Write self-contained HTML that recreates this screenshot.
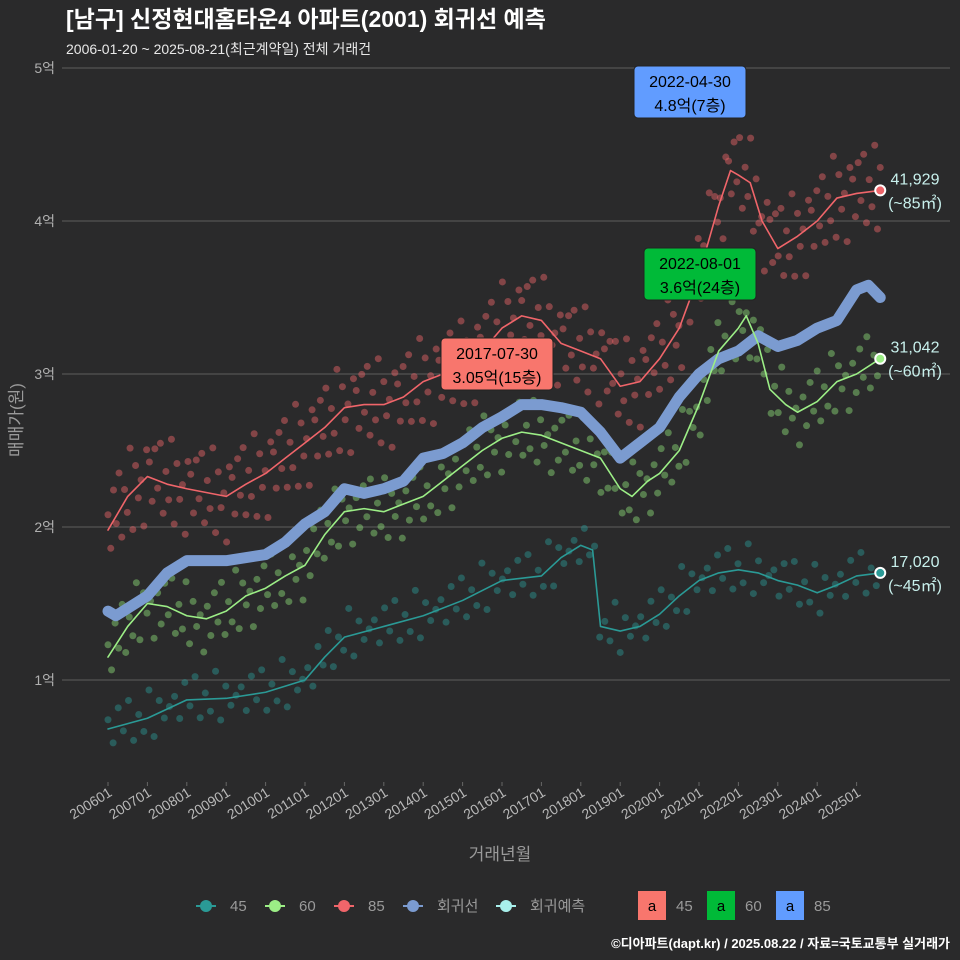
<!DOCTYPE html>
<html><head><meta charset="utf-8">
<style>
body{margin:0;background:#2a2a2b;}
svg{display:block;font-family:"Liberation Sans","Noto Sans CJK KR",sans-serif;}
</style></head>
<body>
<svg id="c" width="960" height="960">
<rect width="960" height="960" fill="#2a2a2b"/>
<text x="66" y="27" fill="#fff" font-size="23" font-weight="bold">[남구] 신정현대홈타운4 아파트(2001) 회귀선 예측</text>
<text x="66" y="54" fill="#e8e8e8" font-size="14">2006-01-20 ~ 2025-08-21(최근계약일) 전체 거래건</text>
<g id="grid"></g>
<g id="pts"></g>
<g id="lines"></g>
<g id="ann"></g>
<text x="500" y="860" fill="#9a9a9a" font-size="17" text-anchor="middle">거래년월</text>
<text transform="translate(22,420) rotate(-90)" fill="#9a9a9a" font-size="17" text-anchor="middle">매매가(원)</text>
<g id="legend" font-size="15" fill="#9a9a9a"></g>
<text x="950" y="948" fill="#fff" font-size="13" font-weight="bold" text-anchor="end">©디아파트(dapt.kr) / 2025.08.22 / 자료=국토교통부 실거래가</text>
</svg>
<script>
const yTicks=[1,2,3,4,5];
const xTickYears=[2006,2007,2008,2009,2010,2011,2012,2013,2014,2015,2016,2017,2018,2019,2020,2021,2022,2023,2024,2025];
const t85=[2006,2006.5,2007,2007.5,2008,2009,2009.5,2010,2010.5,2011,2011.5,2012,2012.5,2013,2013.5,2014,2014.5,2015,2015.5,2016,2016.5,2017,2017.5,2018,2018.5,2019,2019.5,2020,2020.5,2021,2021.5,2021.8,2022,2022.3,2022.6,2023,2023.5,2024,2024.5,2025,2025.6];
const v85=[1.98,2.2,2.33,2.28,2.25,2.2,2.28,2.35,2.45,2.55,2.65,2.78,2.8,2.8,2.85,2.95,3.0,3.05,3.15,3.3,3.38,3.35,3.2,3.15,3.1,2.92,2.95,3.1,3.3,3.65,4.1,4.33,4.3,4.25,4.0,3.82,3.9,4.0,4.15,4.18,4.2];
const t60=[2006,2006.5,2007,2007.5,2008,2008.5,2009,2009.5,2010,2010.5,2011,2011.5,2012,2012.5,2013,2013.5,2014,2014.5,2015,2015.5,2016,2016.5,2017,2017.5,2018,2018.5,2019,2019.3,2019.7,2020,2020.5,2021,2021.5,2022,2022.2,2022.5,2022.8,2023.2,2023.5,2024,2024.5,2025,2025.6];
const v60=[1.15,1.35,1.5,1.48,1.42,1.4,1.45,1.55,1.6,1.68,1.75,1.95,2.1,2.12,2.1,2.15,2.2,2.3,2.4,2.5,2.58,2.62,2.6,2.55,2.5,2.45,2.25,2.2,2.3,2.35,2.5,2.8,3.15,3.3,3.38,3.2,2.9,2.8,2.75,2.82,2.95,3.0,3.1];
const t45=[2006,2007,2008,2009,2010,2011,2011.5,2012,2013,2014,2015,2016,2017,2017.5,2018,2018.3,2018.5,2019,2019.5,2020,2020.5,2021,2021.5,2022,2022.5,2023,2023.5,2024,2024.5,2025,2025.6];
const v45=[0.68,0.75,0.87,0.88,0.92,1.0,1.15,1.28,1.35,1.42,1.52,1.65,1.68,1.8,1.88,1.85,1.35,1.32,1.35,1.43,1.55,1.65,1.7,1.72,1.7,1.65,1.62,1.57,1.62,1.68,1.7];
const tReg=[2006,2006.2,2007,2007.5,2008,2009,2010,2010.5,2011,2011.5,2012,2012.5,2013,2013.5,2014,2014.5,2015,2015.5,2016,2016.5,2017,2017.5,2018,2018.5,2019,2019.5,2020,2020.5,2021,2021.5,2022,2022.5,2023,2023.5,2024,2024.5,2025,2025.3,2025.6];
const vReg=[1.45,1.42,1.55,1.7,1.78,1.78,1.82,1.9,2.02,2.1,2.25,2.22,2.25,2.3,2.45,2.48,2.55,2.65,2.72,2.8,2.8,2.78,2.75,2.62,2.45,2.55,2.65,2.85,3.0,3.1,3.15,3.25,3.18,3.22,3.3,3.35,3.55,3.58,3.5];
const dev85=[0.1,-0.15,0.2,-0.05,0.25,-0.2,0.08,-0.1,0.3,-0.25,0.15,-0.08,0.02,-0.3,0.18];
const dev60=[0.08,-0.12,0.15,-0.05,0.2,-0.15,0.05,-0.1,0.22,-0.18,0.1,-0.06,0.02,-0.22];
const dev45=[0.06,-0.1,0.12,-0.04,0.15,-0.12,0.04,-0.08,0.18,-0.14,0.08,-0.05,0.01];
const X=y=>108+(y-2006)*39.4, Y=v=>680-(v-1)*153;
const NS='http://www.w3.org/2000/svg';
function mk(tag,a,p){const e=document.createElementNS(NS,tag);for(const k in a)e.setAttribute(k,a[k]);p.appendChild(e);return e;}
const grid=document.getElementById('grid');
yTicks.forEach(v=>{
 const l=mk('line',{x1:62,x2:950,y1:Y(v),y2:Y(v),stroke:'#5e5e5e','stroke-width':1},grid);
 
 
 const t=mk('text',{x:55,y:Y(v)+5,fill:'#b0b0b0','font-size':14,'text-anchor':'end'},grid);t.textContent=v+'억';
 
 
});
xTickYears.forEach(yr=>{
 const x=X(yr);
 mk('line',{x1:x,x2:x,y1:782,y2:786,stroke:'#666'},grid);
 const t=mk('text',{x:0,y:0,fill:'#b8b8b8','font-size':14,'text-anchor':'end',transform:`translate(${x+5},${795}) rotate(-32)`},grid);
 t.textContent=yr+'01';
 
 
});
function interp(ts,vs,t){for(let i=1;i<ts.length;i++){if(t<=ts[i]){const f=(t-ts[i-1])/(ts[i]-ts[i-1]);return vs[i-1]+f*(vs[i]-vs[i-1]);}}return vs[vs.length-1];}
const pts=document.getElementById('pts');
function scatter(ts,vs,dev,col,name,step){
 let k=0;for(let t=ts[0];t<=ts[ts.length-1];t+=step){
  const v=interp(ts,vs,t)+dev[k%dev.length];k++;
  const c=mk('circle',{cx:X(t),cy:Y(v),r:3.5,fill:col,'fill-opacity':0.45},pts);
  
  
 }
}
scatter(t85,v85,dev85,'#f0656a','point-85',0.07);
scatter(t60,v60,dev60,'#8ee07a','point-60',0.09);
scatter(t45,v45,dev45,'#2a9a96','point-45',0.13);
const lines=document.getElementById('lines');
function line(ts,vs,col,w,name){
 const p=mk('polyline',{points:ts.map((t,i)=>X(t)+','+Y(vs[i])).join(' '),fill:'none',stroke:col,'stroke-width':w,'stroke-linejoin':'round','stroke-linecap':'round'},lines);
 
 
}
line(tReg,vReg,'#7b9bd0',11,'regression-line');
line(t85,v85,'#f0656a',1.6,'line-85');
line(t60,v60,'#9cee86',1.6,'line-60');
line(t45,v45,'#2a9a96',1.6,'line-45');
const ann=document.getElementById('ann');
[[2025.6,4.2,'#f0656a','41,929','(~85㎡)'],[2025.6,3.1,'#9cee86','31,042','(~60㎡)'],[2025.6,1.7,'#2a9a96','17,020','(~45㎡)']].forEach(d=>{
 const c=mk('circle',{cx:X(d[0]),cy:Y(d[1]),r:5,fill:d[2],stroke:'#fff','stroke-width':2},ann);
 
 
 const t1=mk('text',{x:915,y:Y(d[1])-6,fill:'#c8f0ec','font-size':16,'text-anchor':'middle'},ann);t1.textContent=d[3];
 
 
 const t2=mk('text',{x:915,y:Y(d[1])+18,fill:'#c8f0ec','font-size':16,'text-anchor':'middle'},ann);t2.textContent=d[4];
 
 
});
[[497,370,'#f8766d','2017-07-30','3.05억(15층)'],[700,280,'#00ba38','2022-08-01','3.6억(24층)'],[690,98,'#619cff','2022-04-30','4.8억(7층)']].forEach(d=>{
 const r=mk('rect',{x:d[0]-56,y:d[1]-32,width:112,height:52,rx:4,fill:d[2],stroke:'#222'},ann);
 
 
 const a=mk('text',{x:d[0],y:d[1]-11,'font-size':16,'text-anchor':'middle',fill:'#000'},ann);a.textContent=d[3];
 const b=mk('text',{x:d[0],y:d[1]+13,'font-size':16,'text-anchor':'middle',fill:'#000'},ann);b.textContent=d[4];
});
const lg=document.getElementById('legend');
[[206,'#2a9a96','45'],[275,'#9cee86','60'],[344,'#f0656a','85'],[413,'#7b9bd0','회귀선'],[506,'#a8f0ec','회귀예측']].forEach(d=>{
 mk('line',{x1:d[0]-10,x2:d[0]+10,y1:906,y2:906,stroke:d[1],'stroke-width':2},lg);
 const c=mk('circle',{cx:d[0],cy:906,r:6,fill:d[1]},lg);
 
 
 const t=mk('text',{x:d[0]+24,y:911},lg);t.textContent=d[2];
});
[[638,'#f8766d','45'],[707,'#00ba38','60'],[776,'#619cff','85']].forEach(d=>{
 const r=mk('rect',{x:d[0],y:891,width:28,height:29,fill:d[1]},lg);
 
 
 const a=mk('text',{x:d[0]+14,y:911,'text-anchor':'middle',fill:'#000'},lg);a.textContent='a';
 const t=mk('text',{x:d[0]+38,y:911},lg);t.textContent=d[2];
});
</script>
</body></html>
